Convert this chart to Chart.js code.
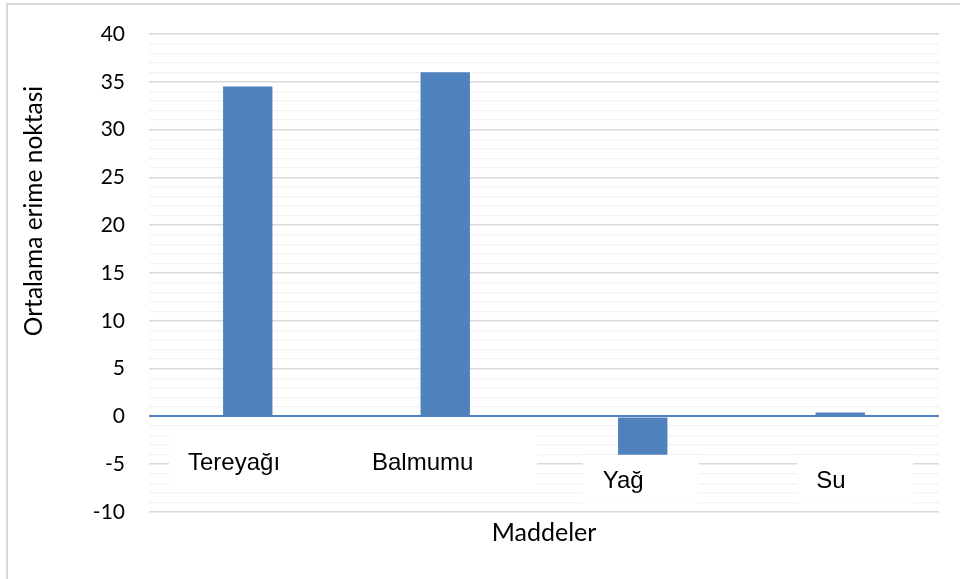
<!DOCTYPE html>
<html>
<head>
<meta charset="utf-8">
<script src="https://cdn.jsdelivr.net/npm/chart.js@4/dist/chart.umd.min.js"></script>
<style>
  html, body { margin: 0; padding: 0; background: #fff; }
  #wrap { width: 960px; height: 579px; position: relative; }
</style>
</head>
<body>
<div id="wrap"><canvas id="chart" width="960" height="579"></canvas></div>
<script>
const categories = ["Tereyağı", "Balmumu", "Yağ", "Su"];
const meltPoints = [34.5, 36, -4, 0.4];
const yTitle = "Ortalama erime noktasi";
const xTitle = "Maddeler";

const barBlue = "#4f81bd";

// label boxes under the axis: two on the upper row, two lower
const labelBoxes = {
  id: "labelBoxes",
  beforeDraw(chart) {
    const ctx = chart.ctx;
    ctx.save();
    ctx.fillStyle = "#d9d9d9";
    ctx.fillRect(6, 3, 954, 2);
    ctx.fillRect(6, 3, 2, 576);
    ctx.restore();
  },
  afterDatasetsDraw(chart) {
    const ctx = chart.ctx;
    const x = chart.scales.x;
    ctx.save();
    ctx.fillStyle = "#fff";
    ctx.fillRect(169, 435, 368, 55);
    ctx.fillRect(x.getPixelForValue(2) - 60, 455, 116, 48);
    ctx.fillRect(x.getPixelForValue(3) - 43, 455, 116, 48);
    ctx.fillStyle = "#000";
    ctx.font = "24px 'Liberation Sans', Arial, sans-serif";
    ctx.textBaseline = "middle";
    ctx.textAlign = "left";
    ctx.fillText(categories[0], 188, 463);
    ctx.fillText(categories[1], 372, 463);
    ctx.fillText(categories[2], x.getPixelForValue(2) - 40, 481);
    ctx.fillText(categories[3], x.getPixelForValue(3) - 24, 481);
    ctx.restore();
  },
  afterDraw(chart) {
    const ctx = chart.ctx;
    ctx.save();
    ctx.fillStyle = "#000";
    ctx.textAlign = "center";
    ctx.textBaseline = "middle";
    ctx.font = "25px Lato, 'Open Sans', sans-serif";
    ctx.fillText(xTitle, 544, 533);
    ctx.font = "24.5px Lato, 'Open Sans', sans-serif";
    ctx.translate(34, 211);
    ctx.rotate(-Math.PI / 2);
    ctx.fillText(yTitle, 0, 0);
    ctx.restore();
  }
};

new Chart(document.getElementById("chart"), {
  type: "bar",
  data: {
    labels: categories,
    datasets: [{
      data: meltPoints,
      backgroundColor: barBlue,
      barPercentage: 0.5,
      categoryPercentage: 0.5
    }]
  },
  plugins: [labelBoxes],
  options: {
    responsive: false,
    animation: false,
    layout: { padding: { left: 0, top: 34, right: 21, bottom: 59 } },
    plugins: { legend: { display: false }, tooltip: { enabled: false } },
    scales: {
      x: {
        grid: { display: false },
        border: { display: false },
        ticks: { display: false }
      },
      y: {
        min: -10,
        max: 40,
        afterFit(scale) {
          scale.width = 149;
          scale.paddingTop = 0;
          scale.paddingBottom = 0;
        },
        border: { display: false },
        grid: {
          drawTicks: false,
          color: (c) => c.tick.value === 0 ? barBlue : (c.tick.value % 5 === 0 ? "#d9d9d9" : "#f2f2f2"),
          lineWidth: (c) => c.tick.value === 0 ? 2 : (c.tick.value % 5 === 0 ? 1.5 : 1.2),
          z: 0
        },
        ticks: {
          stepSize: 1,
          autoSkip: false,
          maxTicksLimit: 100,
          padding: 24,
          color: "#000",
          font: { family: "Lato, 'Open Sans', sans-serif", size: 21 },
          callback: (v) => v % 5 === 0 ? String(v) : ""
        }
      }
    }
  }
});
</script>
</body>
</html>
